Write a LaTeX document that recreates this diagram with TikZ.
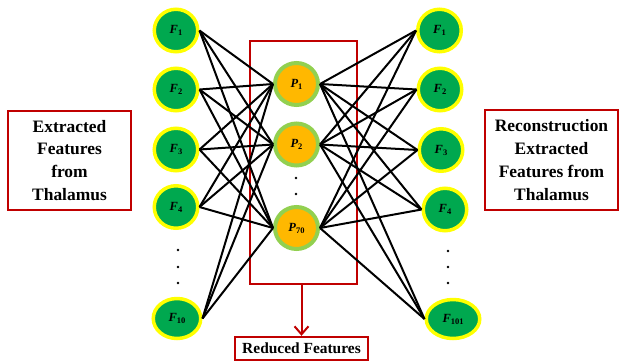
\documentclass[tikz,border=0pt]{standalone}
\usepackage{fontspec}
\setmainfont{Liberation Serif}
\usetikzlibrary{shapes.geometric,arrows.meta}
\definecolor{nodegreen}{HTML}{00A84F}
\definecolor{ringyellow}{HTML}{FFFF00}
\definecolor{hidorange}{HTML}{FFB800}
\definecolor{ringlime}{HTML}{92D050}
\definecolor{boxred}{HTML}{C00000}
\newcommand{\lbl}[2]{\textbf{\textit{#1}}\raisebox{-0.35ex}{\fontsize{8.5}{8.5}\selectfont\textbf{#2}}}
\tikzset{
  x=1bp, y=-1bp,
  feat/.style={ellipse, draw=ringyellow, line width=3.5bp, fill=nodegreen,
    minimum width=43.5bp, minimum height=42.5bp, inner sep=0pt,
    font=\fontsize{12.5}{12.5}\selectfont},
  hid/.style={ellipse, draw=ringlime, line width=4bp, fill=hidorange,
    minimum width=43bp, minimum height=42bp, inner sep=0pt,
    font=\fontsize{12.5}{12.5}\selectfont},
  link/.style={black, line width=2bp},
  dot/.style={circle, fill=black, inner sep=0pt, minimum size=2.6bp},
  textbox/.style={draw=boxred, line width=1.4bp, align=center,
    font=\fontsize{17.5}{23}\selectfont\bfseries, inner sep=0pt},
}
\begin{document}
\begin{tikzpicture}
\useasboundingbox (0,0) rectangle (621,363);

% hidden-layer frame
\node[draw=boxred, line width=2.2bp, minimum width=107bp, minimum height=243bp,
  inner sep=0pt] (frame) at (303.5,162.5) {};

% input layer
\node[feat] (L1) at (176,30.5) {\lbl{F}{1}};
\node[feat] (L2) at (176,89.5) {\lbl{F}{2}};
\node[feat] (L3) at (176,149.5) {\lbl{F}{3}};
\node[feat] (L4) at (176,207) {\lbl{F}{4}};
\node[feat, minimum width=47.5bp, minimum height=40bp] (L10) at (177,318.5) {\lbl{F}{10}};

% hidden layer
\node[hid] (P1) at (296.5,84) {\lbl{P}{1}};
\node[hid] (P2) at (296.5,144.5) {\lbl{P}{2}};
\node[hid] (P70) at (296.5,228) {\lbl{P}{70}};

% output layer
\node[feat] (R1) at (439.5,30.5) {\lbl{F}{1}};
\node[feat] (R2) at (440,89.5) {\lbl{F}{2}};
\node[feat] (R3) at (441,150) {\lbl{F}{3}};
\node[feat] (R4) at (445,209.5) {\lbl{F}{4}};
\node[feat, minimum width=53.5bp, minimum height=39bp] (R101) at (453,319) {\lbl{F}{101}};

% ellipsis dots
\node[dot] (ld1) at (178,250) {};
\node[dot] (ld2) at (178,267) {};
\node[dot] (ld3) at (178,283) {};
\node[dot] (md1) at (296,178) {};
\node[dot] (md2) at (296,194) {};
\node[dot] (rd1) at (448,251) {};
\node[dot] (rd2) at (448,267) {};
\node[dot] (rd3) at (448,283) {};

% fully connected weights
\foreach \a in {L1,L2,L3,L4,L10}
  \foreach \b in {P1,P2,P70}
    \draw[link] (\a.east) -- (\b.west);
\foreach \a in {P1,P2,P70}
  \foreach \b in {R1,R2,R3,R4,R101}
    \draw[link] (\a.east) -- (\b.west);

% captions
\node[textbox, minimum width=123bp, minimum height=99bp] (inbox) at (69.5,160.5)
  {Extracted\\Features\\from\\Thalamus};
\node[textbox, minimum width=133bp, minimum height=100bp] (outbox) at (551.5,160)
  {Reconstruction\\Extracted\\Features from\\Thalamus};
\node[draw=boxred, line width=2.4bp, minimum width=133bp, minimum height=23bp,
  inner sep=0pt, font=\fontsize{15.5}{15.5}\selectfont\bfseries] (reduced) at (301.5,348.5)
  {Reduced Features};
\draw[boxred, line width=2bp, -{Straight Barb[length=8bp,width=14bp]}]
  (frame.south -| reduced.north) -- (reduced.north);
\end{tikzpicture}
\end{document}
